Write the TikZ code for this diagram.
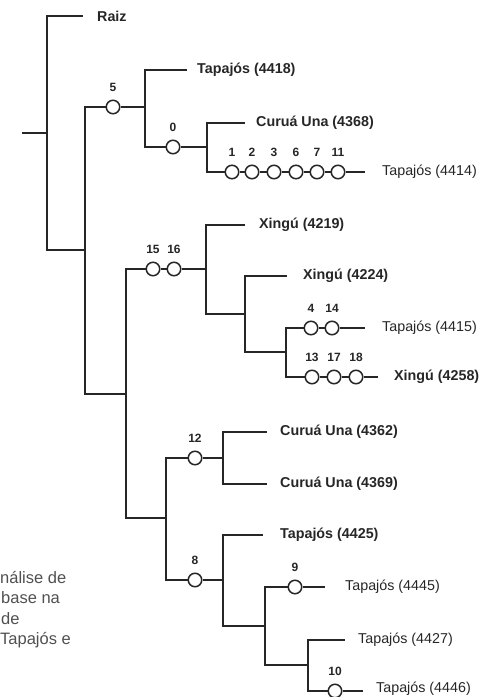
\documentclass[tikz,border=0pt]{standalone}
\usepackage{fontspec}
\setmainfont{Liberation Sans}
\definecolor{ink}{HTML}{262626}
\definecolor{capc}{HTML}{505050}
\tikzset{
  br/.style={draw=ink, line width=2.2pt},
  mut/.style={circle, draw=ink, line width=1.5pt, fill=white, minimum size=13.5pt, inner sep=0pt},
  mlab/.style={font=\bfseries\fontsize{12}{12}\selectfont, text=ink, inner sep=0pt},
  mlb/.style={label={[mlab,label distance=8pt]90:#1}},
  leafb/.style={anchor=west, inner sep=0pt, text=ink, font=\bfseries\fontsize{14.3}{14.3}\selectfont},
  leafr/.style={anchor=west, inner sep=0pt, text=ink, font=\fontsize{14.3}{14.3}\selectfont},
  capt/.style={anchor=base west, inner sep=0pt, text=capc, font=\fontsize{16.5}{16.5}\selectfont},
}
\begin{document}
\begin{tikzpicture}[x=1pt,y=-1pt]
\useasboundingbox (0,0) rectangle (483,697);
\clip (0,0) rectangle (483,697);
% ---------- coordinates and mutation circles ----------
\coordinate (r0) at (22,133);
\coordinate (j0) at (47,133);
\coordinate (eRaiz) at (83,16);
\coordinate (j1) at (85,250);
\node[mut,mlb={5}] (m5) at (113,107) {};
\coordinate (j2) at (145,107);
\coordinate (e4418) at (187,70);
\node[mut,mlb={0}] (m0) at (173,147) {};
\coordinate (j3) at (207,147);
\coordinate (e4368) at (245,123);
\node[mut,mlb={1}] (m1) at (232,172) {};
\node[mut,mlb={2}] (m2) at (252,172) {};
\node[mut,mlb={3}] (m3) at (274,172) {};
\node[mut,mlb={6}] (m6) at (296,172) {};
\node[mut,mlb={7}] (m7) at (317,172) {};
\node[mut,mlb={11}] (m11) at (338,172) {};
\coordinate (e4414) at (365,172);
% second group
\coordinate (j4) at (126,394);
\node[mut,mlb={15}] (m15) at (153,269) {};
\node[mut,mlb={16}] (m16) at (174,269) {};
\coordinate (j5) at (206,269);
\coordinate (e4219) at (245,225);
\coordinate (j6) at (245,314);
\coordinate (e4224) at (287,276);
\coordinate (j7) at (286,352);
\node[mut,mlb={4}] (m4) at (311,328) {};
\node[mut,mlb={14}] (m14) at (332,328) {};
\coordinate (e4415) at (365,328);
\node[mut,mlb={13}] (m13) at (312,377) {};
\node[mut,mlb={17}] (m17) at (334,377) {};
\node[mut,mlb={18}] (m18) at (356,377) {};
\coordinate (e4258) at (378,377);
% third group
\coordinate (j8) at (166,518);
\node[mut,mlb={12}] (m12) at (195,458) {};
\coordinate (j9) at (223,458);
\coordinate (e4362) at (267,432);
\coordinate (e4369) at (267,484);
\node[mut,mlb={8}] (m8) at (195,580) {};
\coordinate (j10) at (223,580);
\coordinate (e4425) at (263,535);
\coordinate (j11) at (265,626);
\node[mut,mlb={9}] (m9) at (295,587) {};
\coordinate (e4445) at (325,587);
\coordinate (j12) at (308,665);
\coordinate (e4427) at (345,640);
\node[mut,mlb={10}] (m10) at (335,691) {};
\coordinate (e4446) at (363,691);
% ---------- branches ----------
\draw[br] (r0) -- (j0);
\draw[br] (j0) |- (eRaiz);
\draw[br] (j0) |- (j1);
\draw[br] (j1) |- (m5);
\draw[br] (m5) -- (j2);
\draw[br] (j2) |- (e4418);
\draw[br] (j2) |- (m0);
\draw[br] (m0) -- (j3);
\draw[br] (j3) |- (e4368);
\draw[br] (j3) |- (m1);
\draw[br] (m1) -- (m2);
\draw[br] (m2) -- (m3);
\draw[br] (m3) -- (m6);
\draw[br] (m6) -- (m7);
\draw[br] (m7) -- (m11);
\draw[br] (m11) -- (e4414);
\draw[br] (j1) |- (j4);
\draw[br] (j4) |- (m15);
\draw[br] (m15) -- (m16);
\draw[br] (m16) -- (j5);
\draw[br] (j5) |- (e4219);
\draw[br] (j5) |- (j6);
\draw[br] (j6) |- (e4224);
\draw[br] (j6) |- (j7);
\draw[br] (j7) |- (m4);
\draw[br] (m4) -- (m14);
\draw[br] (m14) -- (e4415);
\draw[br] (j7) |- (m13);
\draw[br] (m13) -- (m17);
\draw[br] (m17) -- (m18);
\draw[br] (m18) -- (e4258);
\draw[br] (j4) |- (j8);
\draw[br] (j8) |- (m12);
\draw[br] (m12) -- (j9);
\draw[br] (j9) |- (e4362);
\draw[br] (j9) |- (e4369);
\draw[br] (j8) |- (m8);
\draw[br] (m8) -- (j10);
\draw[br] (j10) |- (e4425);
\draw[br] (j10) |- (j11);
\draw[br] (j11) |- (m9);
\draw[br] (m9) -- (e4445);
\draw[br] (j11) |- (j12);
\draw[br] (j12) |- (e4427);
\draw[br] (j12) |- (m10);
\draw[br] (m10) -- (e4446);
% ---------- leaf labels ----------
\node[leafb] (tRaiz) at (97,16) {Raiz};
\node[leafb] (t4418) at (197,70) {Tapajós (4418)};
\node[leafb] (t4368) at (256,123) {Curuá Una (4368)};
\node[leafr] (t4414) at (382,172) {Tapajós (4414)};
\node[leafb] (t4219) at (259,225) {Xingú (4219)};
\node[leafb] (t4224) at (303,276) {Xingú (4224)};
\node[leafr] (t4415) at (382,328) {Tapajós (4415)};
\node[leafb] (t4258) at (394,377) {Xingú (4258)};
\node[leafb] (t4362) at (280,432) {Curuá Una (4362)};
\node[leafb] (t4369) at (280,484) {Curuá Una (4369)};
\node[leafb] (t4425) at (280,535) {Tapajós (4425)};
\node[leafr] (t4445) at (345,587) {Tapajós (4445)};
\node[leafr] (t4427) at (358,640) {Tapajós (4427)};
\node[leafr] (t4446) at (376,689) {Tapajós (4446)};
% ---------- cropped caption ----------
\node[capt] (c1) at (0,583) {nálise de};
\node[capt] (c2) at (1,603.5) {base na};
\node[capt] (c3) at (1,624) {de};
\node[capt] (c4) at (0,644.5) {Tapajós e};
\end{tikzpicture}
\end{document}
